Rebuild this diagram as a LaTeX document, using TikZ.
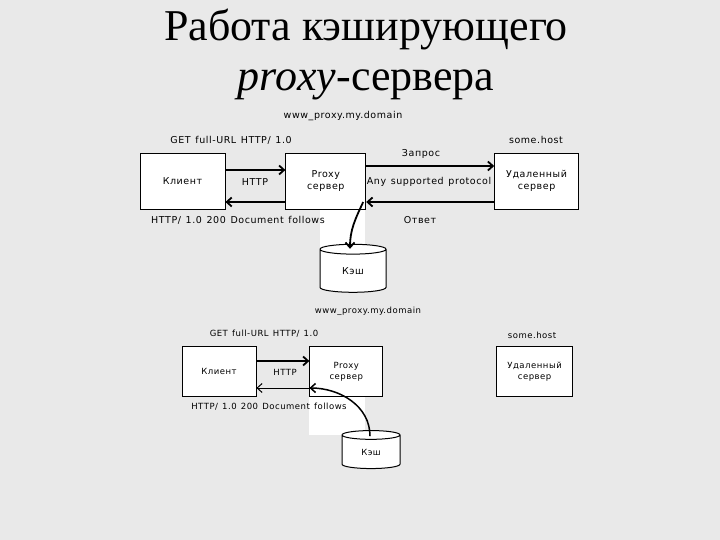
\documentclass[tikz,border=0pt]{standalone}
\usepackage{fontspec}
\setmainfont{Liberation Serif}
\newfontfamily\dgfont[LetterSpace=6, WordSpace=1.3]{DejaVu Sans}
\usetikzlibrary{positioning, arrows.meta, shapes.geometric}
\definecolor{slidegray}{HTML}{E9E9E9}
\newcommand{\bigfont}{\dgfont\fontsize{9.5}{12.5}\selectfont}
\newcommand{\smallfont}{\dgfont\fontsize{8.5}{11}\selectfont}
\tikzset{
    host big/.style={rectangle, draw=black, fill=white, line width=0.8pt, minimum height=56pt, align=center, inner sep=0pt, font=\bigfont},
    host small/.style={rectangle, draw=black, fill=white, line width=0.8pt, minimum height=50pt, align=center, inner sep=0pt, font=\smallfont},
    lbl big/.style={inner sep=1pt, font=\bigfont},
    lbl small/.style={inner sep=1pt, font=\smallfont},
    cache big/.style={cylinder, shape border rotate=90, aspect=0.45, draw=black, fill=white, line width=1pt, minimum width=66pt, minimum height=48pt, inner sep=0pt, font=\bigfont},
    cache small/.style={cylinder, shape border rotate=90, aspect=0.45, draw=black, fill=white, line width=1pt, minimum width=58pt, minimum height=38pt, inner sep=0pt, font=\smallfont},
    msg/.style={-{Straight Barb[length=5pt, width=9pt]}, line width=1.8pt},
    msg thin/.style={-{Straight Barb[length=5pt, width=9pt]}, line width=1pt},
}
\begin{document}
\begin{tikzpicture}[x=1pt, y=-1pt]
\fill[slidegray] (0,0) rectangle (720,540);
\useasboundingbox (0,0) rectangle (720,540);
% title
\node[anchor=base, font=\fontsize{44}{50}\selectfont] (title1) at (366,41) {Работа кэширующего};
\node[anchor=base, font=\fontsize{44}{50}\selectfont] (title2) at (366,91) {\textit{proxy}-сервера};
% upper scheme: cache miss
\fill[white] (320,209.5) rectangle (365,262);
\node[host big, minimum width=85pt] (cl1) at (182.5,181) {Клиент};
\node[host big, minimum width=80pt, right=60pt of cl1] (px1) {Proxy\\сервер};
\node[host big, minimum width=84pt, right=128pt of px1] (ud1) {Удаленный\\сервер};
\node[cache big] (cache1) at (353,271) {Кэш};
\node[lbl big] (www1) at (343,116) {www\_proxy.my.domain};
\node[lbl big] (get1) at (231,140) {GET full-URL HTTP/ 1.0};
\node[lbl big] (host1) at (536,140) {some.host};
\node[lbl big] (req1) at (421,154) {Запрос};
\node[lbl big] (http1) at (255,182) {HTTP};
\node[lbl big] (any1) at (429,182) {Any supported protocol};
\node[lbl big] (ans1) at (420,220) {Ответ};
\node[lbl big] (doc1) at (238,220) {HTTP/ 1.0 200 Document follows};
\draw[msg] ([yshift=11pt]cl1.east) -- ([yshift=11pt]px1.west);
\draw[msg] ([yshift=-21pt]px1.west) -- ([yshift=-21pt]cl1.east);
\draw[msg] ([yshift=15pt]px1.east) -- ([yshift=15pt]ud1.west);
\draw[msg] ([yshift=-21pt]ud1.west) -- ([yshift=-21pt]px1.east);
\draw[msg] ([xshift=-3pt, yshift=-21pt]px1.east) to[out=-115, in=90] ([xshift=-3pt, yshift=-5pt]cache1.north);
% lower scheme: cache hit
\fill[white] (309,396.5) rectangle (365,435);
\node[host small, minimum width=74pt] (cl2) at (219,371.5) {Клиент};
\node[host small, minimum width=73pt, right=53pt of cl2] (px2) {Proxy\\сервер};
\node[host small, minimum width=76pt, right=113pt of px2] (ud2) {Удаленный\\сервер};
\node[cache small] (cache2) at (371,452) {Кэш};
\node[lbl small] (www2) at (368,311) {www\_proxy.my.domain};
\node[lbl small] (get2) at (264,334) {GET full-URL HTTP/ 1.0};
\node[lbl small] (host2) at (532,335) {some.host};
\node[lbl small] (http2) at (285,372) {HTTP};
\node[lbl small] (doc2) at (269,407) {HTTP/ 1.0 200 Document follows};
\draw[msg] ([yshift=10.5pt]cl2.east) -- ([yshift=10.5pt]px2.west);
\draw[msg thin] ([yshift=-16.5pt]px2.west) -- ([yshift=-16.5pt]cl2.east);
\draw[msg thin, line width=1.5pt] ([xshift=-1pt, yshift=-6pt]cache2.north) to[out=90, in=0] ([yshift=-16.5pt]px2.west);
\end{tikzpicture}
\end{document}
